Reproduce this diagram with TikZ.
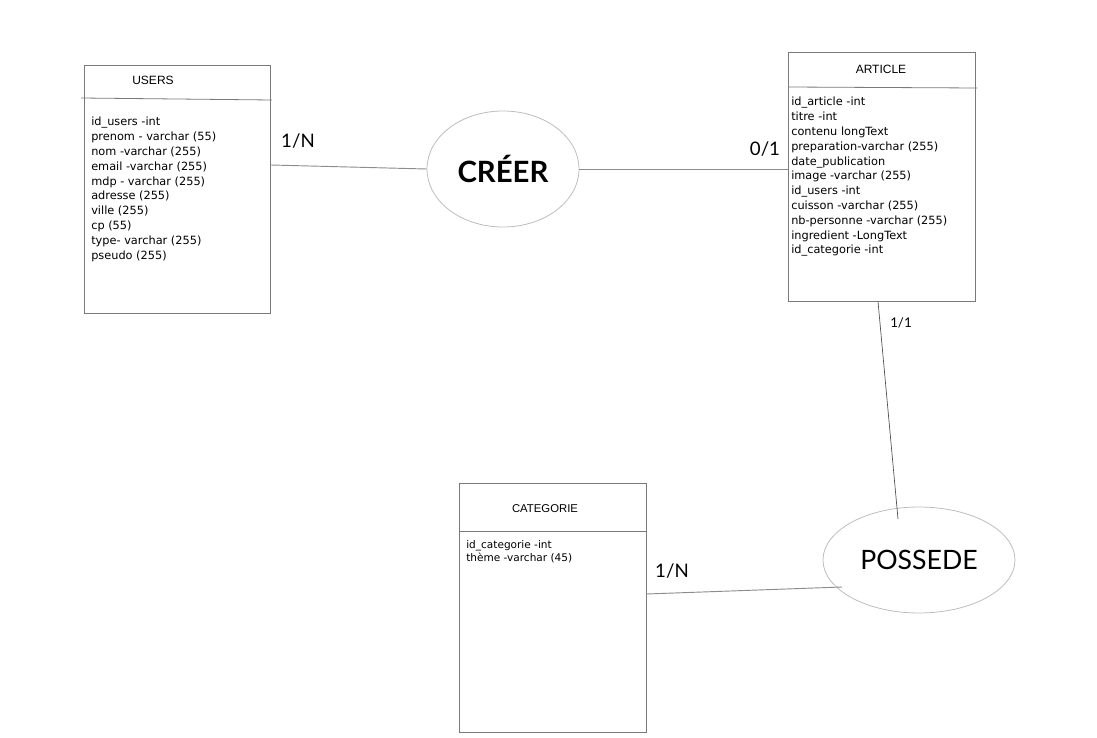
\documentclass[tikz,border=0pt]{standalone}
\usepackage{fontspec}
\setmainfont{Lato}
\newfontfamily\titlefont{Liberation Sans}
\newfontfamily\attrfont{DejaVu Sans}
\usetikzlibrary{shapes.geometric, positioning, calc}
\definecolor{boxgray}{HTML}{7A7A7A}
\definecolor{ellgray}{HTML}{BDBDBD}
\definecolor{linkgray}{HTML}{8C8C8C}
\tikzset{
    entity/.style={
        rectangle,
        draw=boxgray,
        line width=0.6pt,
        anchor=north west,
        inner sep=0pt,
        minimum width=140pt,
        minimum height=186.5pt
    },
    title/.style={
        font=\titlefont\fontsize{9}{11}\selectfont,
        inner sep=0pt
    },
    attrs/.style={
        anchor=north west,
        align=left,
        inner sep=0pt,
        font=\attrfont\fontsize{8.5}{11.1}\selectfont
    },
    relation/.style={
        ellipse,
        draw=ellgray,
        line width=0.6pt,
        inner sep=0pt
    },
    card/.style={
        inner sep=0pt,
        font=\fontsize{14}{16}\selectfont
    },
    link/.style={
        draw=linkgray,
        line width=0.7pt
    },
    sep/.style={
        draw=boxgray,
        line width=0.6pt
    }
}

\begin{document}
\begin{tikzpicture}[x=0.75pt, y=-0.75pt]

\useasboundingbox (0,0) rectangle (1097,738);

% entities
\node[entity, minimum width=139.5pt, minimum height=186pt] (users) at (84,65) {};
\node[entity] (article) at (788,52) {};
\node[entity] (categorie) at (459,483) {};

\draw[sep] ($(users.north west)+(-3,33)$) -- ($(users.north east)+(1,35)$);
\draw[sep] ($(article.north west)+(0,35)$) -- ($(article.north east)+(2,36)$);
\draw[sep] ($(categorie.north west)+(0,48)$) -- ($(categorie.north east)+(0,48)$);

\node[title] (userst) at ($(users.north west)+(69,15)$) {USERS};
\node[title] (articlet) at ($(article.north west)+(93,17)$) {ARTICLE};
\node[title, font=\titlefont\fontsize{8.5}{10}\selectfont] (categoriet) at ($(categorie.north west)+(86,26)$) {CATEGORIE};

\node[attrs] (usersa) at ($(users.north west)+(7,52)$) {
    id\_users -int\\
    prenom - varchar (55)\\
    nom -varchar (255)\\
    email -varchar (255)\\
    mdp - varchar (255)\\
    adresse (255)\\
    ville (255)\\
    cp (55)\\
    type- varchar (255)\\
    pseudo (255)};
\node[attrs] (articlea) at ($(article.north west)+(3,45)$) {
    id\_article -int\\
    titre -int\\
    contenu longText\\
    preparation-varchar (255)\\
    date\_publication\\
    image -varchar (255)\\
    id\_users -int\\
    cuisson -varchar (255)\\
    nb-personne -varchar (255)\\
    ingredient -LongText\\
    id\_categorie -int};
\node[attrs, font=\attrfont\fontsize{7.9}{9.7}\selectfont] (categoriea) at ($(categorie.north west)+(7,57)$) {
    id\_categorie -int\\
    thème -varchar (45)};

% relations
\node[relation, minimum width=114pt, minimum height=87pt, font=\bfseries\fontsize{22}{24}\selectfont] (creer) at (503,169) {CRÉER};
\node[relation, minimum width=144pt, minimum height=79.5pt, font=\fontsize{20}{22}\selectfont] (possede) at (919,560) {POSSEDE};

% links
\draw[link] ($(users.north east)+(0,100)$) -- (creer.west);
\draw[link] (creer.east) -- (creer.east -| article.west);
\draw[link, draw=black!70, line width=0.5pt] ($(article.south west)+(90,0)$) -- ($(possede.center)+(-21,-41)$);
\draw[link] ($(categorie.north east)+(0,111)$) -- ($(possede.center)+(-77,27)$);

% cardinalities
\node[card] (c1) at (298,141) {1/N};
\node[card] (c2) at (765,149) {0/1};
\node[card, font=\fontsize{10}{12}\selectfont] (c3) at (901,323) {1/1};
\node[card] (c4) at (672,571) {1/N};

\end{tikzpicture}
\end{document}
